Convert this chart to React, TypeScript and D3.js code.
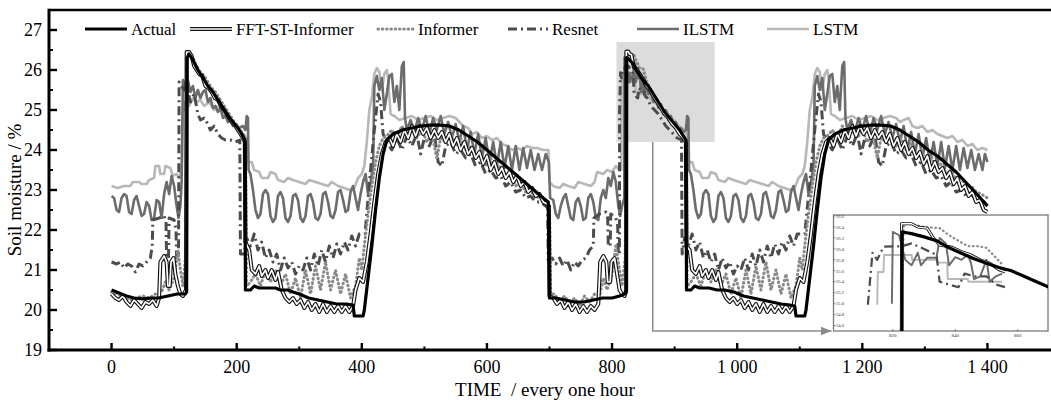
import React from "react";
import * as d3 from "d3";

type P = [number, number];

const xTicks = [0, 200, 400, 600, 800, 1000, 1200, 1400];
const xTickLabels = ["0", "200", "400", "600", "800", "1 000", "1 200", "1 400"];
const xMinorTicks = [100, 300, 500, 700, 900, 1100, 1300];
const yTicks = [19, 20, 21, 22, 23, 24, 25, 26, 27];
const yMinorTicks = [19.5, 20.5, 21.5, 22.5, 23.5, 24.5, 25.5, 26.5];
const insetXTicks = [820, 840, 860];
const insetYTicks = [24.6, 24.8, 25.0, 25.2, 25.4, 25.6, 25.8, 26.0, 26.2, 26.4, 26.6];
const highlightT = [807, 964];
const highlightV = [24.2, 26.7];
const connectorT = 865;
const insetT = [801, 869.7];
const insetV = [24.5, 26.62];

const actual: P[] = [
  [0,20.5],[8,20.45],[16,20.4],[24,20.35],[36,20.3],[50,20.28],[65,20.3],[75,20.3],[90,20.35],[105,20.4],[118,20.4],
  [120,20.45],[120.5,26.3],[124,26.4],[130,26.25],[138,26.0],[146,25.8],[154,25.6],[162,25.45],[170,25.25],[178,25.05],[186,24.85],[194,24.7],[202,24.55],[208,24.4],[213,24.25],
  [214,20.5],[222,20.5],[228,20.6],[236,20.55],[250,20.55],[262,20.55],[270,20.5],[282,20.5],[290,20.45],[300,20.4],[315,20.3],[330,20.25],[345,20.2],[360,20.15],[375,20.15],[386,20.12],[388,19.85],[402,19.85],[404,20.0],
  [410,20.8],[416,21.6],[422,22.5],[428,23.3],[434,23.9],[440,24.25],[450,24.4],[465,24.5],[480,24.55],[495,24.6],[510,24.62],[525,24.62],[540,24.6],[555,24.5],[570,24.35],[585,24.2],[600,24.0],[615,23.8],[630,23.6],[645,23.4],[660,23.2],[675,23.0],[690,22.8],[698,22.7],
  [700,20.3],[710,20.3],[725,20.25],[740,20.2],[755,20.2],[770,20.25],[785,20.3],[800,20.3],[812,20.35],[820,20.4],[822.8,20.45],
  [823,26.31],[826,26.28],[830,26.22],[834,26.15],[838,26.02],[842,25.92],[846,25.82],[850,25.74],[854,25.66],[858,25.6],[862,25.5],[866,25.4],[870,25.3],[876,25.15],[884,24.95],[892,24.8],[900,24.65],[908,24.5],[914,24.35],[918,24.25],
  [919,20.5],[926,20.5],[932,20.6],[940,20.55],[955,20.55],[968,20.5],[980,20.5],[995,20.45],[1010,20.35],[1025,20.3],[1040,20.25],[1055,20.2],[1070,20.15],[1085,20.12],[1092,20.1],[1094,19.85],[1108,19.85],[1110,20.0],
  [1116,20.8],[1122,21.6],[1128,22.5],[1134,23.3],[1140,23.9],[1146,24.25],[1156,24.4],[1170,24.5],[1185,24.55],[1200,24.6],[1215,24.62],[1230,24.62],[1245,24.6],[1260,24.5],[1275,24.35],[1290,24.2],[1305,24.0],[1320,23.85],[1335,23.65],[1350,23.45],[1365,23.2],[1380,22.95],[1400,22.6]
];

const fftInformer: P[] = [
  [0,20.4],[6,20.3],[12,20.25],[18,20.35],[24,20.2],[30,20.1],[36,20.25],[42,20.15],[48,20.05],[54,20.2],[60,20.15],[66,20.25],[72,20.1],[76,20.3],[78,21.2],[84,21.35],[88,21.2],[90,20.6],[93,20.6],[95,21.2],[99,21.3],[102,20.9],[106,20.6],[110,20.4],[114,20.35],[119,20.5],
  [120,26.45],[124,26.45],[128,26.35],[132,26.1],[136,26.0],[140,25.9],[145,25.85],[150,25.6],[155,25.55],[160,25.45],[165,25.3],[170,25.25],[175,25.1],[180,25.0],[186,24.85],[192,24.7],[198,24.6],[204,24.45],[210,24.3],[213,24.2],
  [214,21.7],[220,21.5],[224,21.0],[230,20.9],[236,21.1],[240,20.85],[246,21.0],[250,20.8],[256,21.0],[262,20.75],[266,20.95],[272,20.5],[278,20.3],[284,20.2],[290,20.3],[296,20.15],[302,20.25],[308,20.05],[314,20.2],[320,20.0],[326,20.15],[332,19.95],[338,20.15],[344,19.95],[350,20.1],[356,19.95],[362,20.1],[368,19.95],[374,20.1],[380,19.95],[386,20.1],[390,20.5],[396,20.8],[402,20.7],[408,21.2],[414,21.9],[420,22.7],[426,23.4],[432,23.9],[438,24.2],
  [444,24.3],[450,24.1],[456,24.4],[462,24.2],[468,24.5],[474,24.3],[480,24.6],[486,24.35],[492,24.6],[498,24.4],[504,24.55],[510,24.3],[516,24.5],[522,24.3],[528,24.45],[534,24.2],[540,24.4],[546,24.1],[552,24.3],[558,24.0],[564,24.2],[570,23.9],[576,24.05],[582,23.8],[588,23.95],[594,23.65],[600,23.85],[606,23.5],[612,23.7],[618,23.4],[624,23.55],[630,23.3],[636,23.45],[642,23.2],[648,23.35],[654,23.1],[660,23.2],[666,22.95],[672,23.05],[678,22.85],[684,22.9],[690,22.7],[696,22.65],[699,22.6],
  [700,20.35],[706,20.3],[712,20.15],[718,20.25],[724,20.05],[730,20.2],[736,20.0],[742,20.15],[748,19.95],[754,20.1],[760,19.95],[766,20.1],[772,20.0],[778,20.15],[781,21.2],[786,21.35],[791,21.2],[793,20.7],[797,20.7],[799,21.2],[804,21.3],[808,20.9],[812,20.5],[816,20.4],[820,20.35],[822.6,20.5],
  [822.8,26.46],[826,26.46],[828,26.4],[831,26.38],[833,26.2],[835,26.07],[839,26.03],[842,25.95],[845,25.89],[848,25.8],[851,25.74],[854,25.62],[856,25.58],[860,25.52],[864,25.4],[868,25.3],[872,25.2],[878,25.05],[884,24.9],[890,24.8],[896,24.65],[902,24.55],[908,24.4],[914,24.3],[918,24.2],
  [919,21.6],[924,21.5],[928,21.0],[934,20.9],[940,21.1],[944,20.85],[950,21.0],[954,20.8],[960,21.0],[966,20.75],[970,20.95],[976,20.5],[982,20.3],[988,20.2],[994,20.3],[1000,20.15],[1006,20.25],[1012,20.05],[1018,20.2],[1024,20.0],[1030,20.15],[1036,19.95],[1042,20.15],[1048,19.95],[1054,20.1],[1060,19.95],[1066,20.1],[1072,19.95],[1078,20.1],[1084,19.95],[1090,20.1],[1094,20.5],[1100,20.8],[1106,20.7],[1112,21.2],[1118,21.9],[1124,22.7],[1130,23.4],[1136,23.9],[1142,24.2],
  [1148,24.3],[1154,24.1],[1160,24.4],[1166,24.2],[1172,24.5],[1178,24.3],[1184,24.6],[1190,24.35],[1196,24.6],[1202,24.4],[1208,24.55],[1214,24.3],[1220,24.5],[1226,24.3],[1232,24.45],[1238,24.2],[1244,24.4],[1250,24.1],[1256,24.3],[1262,24.0],[1268,24.2],[1274,23.9],[1280,24.05],[1286,23.8],[1292,23.95],[1298,23.65],[1304,23.85],[1310,23.5],[1316,23.7],[1322,23.45],[1328,23.55],[1334,23.3],[1340,23.45],[1346,23.15],[1352,23.3],[1358,23.0],[1364,23.1],[1370,22.85],[1376,22.95],[1382,22.7],[1388,22.75],[1394,22.5],[1400,22.45]
];

const informer: P[] = [
  [0,20.45],[10,20.4],[20,20.3],[30,20.25],[40,20.3],[50,20.35],[60,20.3],[70,20.4],[80,20.45],[86,20.7],[92,20.5],[100,20.8],[106,21.5],[110,21.0],[114,20.6],[118,21.3],
  [121,26.45],[124,26.4],[130,26.3],[136,26.1],[142,25.95],[148,25.85],[154,25.7],[160,25.55],[166,25.45],[172,25.3],[178,25.15],[184,25.0],[190,24.85],[196,24.7],[202,24.6],[208,24.45],[214,24.3],
  [216,20.6],[222,20.7],[230,20.9],[238,20.6],[246,21.0],[254,20.7],[262,21.0],[270,20.6],[278,20.9],[286,20.4],[294,20.8],[302,20.3],[310,21.0],[318,20.4],[326,21.1],[334,20.5],[342,21.2],[350,20.5],[358,21.0],[366,20.4],[374,20.9],[382,20.3],[390,20.6],[396,21.3],[400,21.0],[404,21.6],[410,22.4],[416,23.1],[422,23.7],[428,24.1],[434,24.3],
  [440,24.35],[448,24.5],[456,24.3],[464,24.6],[472,24.4],[480,24.6],[488,24.3],[496,24.5],[504,24.2],[512,24.4],[520,23.8],[526,24.3],[534,24.2],[542,24.4],[550,24.1],[558,24.3],[566,24.0],[574,24.1],[582,23.8],[590,23.95],[598,23.6],[606,23.8],[614,23.5],[622,23.6],[630,23.3],[638,23.4],[646,23.1],[654,23.2],[662,22.95],[670,23.0],[678,22.8],[686,22.85],[694,22.7],[700,22.65],
  [702,20.4],[708,20.4],[716,20.2],[724,20.35],[732,20.15],[740,20.3],[748,20.1],[756,20.35],[764,20.2],[772,20.4],[780,20.35],[786,20.8],[792,20.5],[800,20.9],[806,21.6],[812,21.0],[816,20.6],[821,21.3],
  [823.5,26.45],[826,26.45],[830,26.4],[835,26.38],[838,26.25],[841,26.15],[844,26.05],[847,26.05],[850,26.02],[852,25.9],[855,25.72],[860,25.55],[866,25.4],[872,25.25],[878,25.1],[884,24.95],[890,24.8],[896,24.7],[902,24.55],[908,24.45],[914,24.3],[919,24.25],
  [920,20.6],[926,20.7],[934,20.9],[942,20.6],[950,21.0],[958,20.7],[966,21.0],[974,20.6],[982,20.9],[990,20.4],[998,20.8],[1006,20.3],[1014,21.0],[1022,20.4],[1030,21.1],[1038,20.5],[1046,21.2],[1054,20.5],[1062,21.0],[1070,20.4],[1078,20.9],[1086,20.3],[1094,20.6],[1100,21.3],[1104,21.0],[1108,21.6],[1114,22.4],[1120,23.1],[1126,23.7],[1132,24.1],[1138,24.3],
  [1144,24.35],[1152,24.5],[1160,24.3],[1168,24.6],[1176,24.4],[1184,24.6],[1192,24.3],[1200,24.5],[1208,24.2],[1216,24.4],[1224,23.8],[1230,24.3],[1238,24.2],[1246,24.4],[1254,24.1],[1262,24.3],[1270,24.0],[1278,24.15],[1286,23.85],[1294,24.0],[1302,23.7],[1310,23.85],[1318,23.55],[1326,23.65],[1334,23.4],[1342,23.5],[1350,23.25],[1358,23.3],[1366,23.1],[1374,23.1],[1382,22.95],[1390,22.9],[1400,22.8]
];

const resnet: P[] = [
  [0,21.2],[8,21.15],[14,21.2],[20,21.05],[26,21.15],[32,21.1],[38,20.95],[44,21.15],[50,21.1],[56,21.2],[62,21.3],[65,21.6],[66,22.25],[76,22.3],[84,22.35],[87,22.2],[88,21.3],[91,21.3],[92,22.3],[100,22.25],[103,22.0],[104,21.3],[107,21.3],
  [108,25.7],[112,25.6],[116,25.5],[120,25.6],[126,25.2],[132,25.4],[138,24.9],[142,24.75],[148,24.8],[152,24.7],[158,24.5],[164,24.6],[170,24.4],[176,24.3],[182,24.25],[190,24.25],[198,24.2],[205,24.25],
  [206,21.4],[212,21.4],[216,21.8],[222,21.6],[228,21.9],[234,21.5],[240,21.7],[246,21.3],[252,21.5],[258,21.2],[264,21.4],[270,21.0],[276,21.3],[282,21.05],[288,21.2],[294,20.9],[300,21.1],[306,21.0],[312,21.3],[318,21.0],[324,21.4],[330,21.1],[336,21.5],[342,21.2],[348,21.6],[354,21.3],[360,21.65],[366,21.4],[372,21.7],[378,21.5],[384,21.85],[390,21.6],[396,21.9],[405,21.9],
  [414,23.5],[420,24.5],[426,25.4],[430,25.2],[434,24.4],[440,24.2],[448,24.0],[456,24.3],[464,24.0],[472,24.35],[480,24.1],[488,24.4],[494,23.9],[500,24.3],[508,24.1],[516,24.4],[522,23.7],[528,23.6],[534,24.1],[542,24.2],[550,23.9],[558,24.0],[566,23.8],[574,23.9],[582,23.6],[590,23.7],[598,23.4],[606,23.5],[614,23.3],[622,23.35],[630,23.1],[638,23.2],[646,22.95],[654,23.0],[662,22.8],[670,22.85],[678,22.7],[686,22.7],[694,22.6],[697,22.55],
  [698,21.25],[704,21.3],[710,21.15],[716,21.3],[722,21.1],[728,21.25],[734,21.0],[740,21.2],[746,21.1],[752,21.25],[758,21.3],[764,21.5],[770,21.6],[771,22.3],[780,22.4],[790,22.45],[793,22.3],[794,21.6],[797,21.6],[798,22.4],[806,22.3],[809,22.1],[810,21.4],[811.8,21.4],
  [812,24.98],[813.5,25.93],[815,25.8],[817,26.04],[823,26.05],[826,26.1],[830,26.0],[834,25.89],[835,25.4],[838,25.35],[841,25.3],[843,25.55],[846,25.5],[850,25.5],[853,25.35],[856,25.3],[862,25.1],[868,25.0],[874,24.9],[880,24.75],[886,24.6],[892,24.5],[898,24.4],[904,24.3],[911,24.25],
  [912,21.4],[916,21.8],[922,21.6],[928,21.9],[934,21.5],[940,21.7],[946,21.3],[952,21.5],[958,21.2],[964,21.4],[970,21.0],[976,21.3],[982,21.05],[988,21.2],[994,20.9],[1000,21.1],[1006,21.0],[1012,21.3],[1018,21.0],[1024,21.4],[1030,21.1],[1036,21.5],[1042,21.2],[1048,21.6],[1054,21.3],[1060,21.65],[1066,21.4],[1072,21.7],[1078,21.5],[1084,21.85],[1090,21.6],[1096,21.9],[1108,21.9],
  [1118,23.5],[1124,24.5],[1130,25.4],[1134,25.2],[1138,24.4],[1144,24.2],[1152,24.0],[1160,24.3],[1168,24.0],[1176,24.35],[1184,24.1],[1192,24.4],[1198,23.9],[1204,24.3],[1212,24.1],[1220,24.4],[1226,23.7],[1232,23.6],[1238,24.1],[1246,24.2],[1254,23.9],[1262,24.0],[1270,23.8],[1278,23.9],[1286,23.6],[1294,23.7],[1302,23.4],[1310,23.5],[1318,23.3],[1326,23.35],[1334,23.1],[1342,23.2],[1350,22.95],[1358,23.0],[1366,22.85],[1374,22.9],[1382,22.75],[1390,22.8],[1400,22.6]
];

const ilstm: P[] = [
  [0,22.85],[4,22.8],[8,22.5],[12,22.45],[16,22.8],[20,22.9],[24,22.85],[28,22.45],[32,22.4],[36,22.75],[40,22.85],[44,22.6],[48,22.35],[52,22.4],[56,22.7],[60,22.6],[64,22.25],[68,22.3],[72,22.75],[76,22.7],[80,22.3],[84,22.9],[88,23.2],[92,22.9],[96,23.35],[100,23.1],[104,22.6],[107,22.3],[110,22.6],[112,23.2],
  [114,25.75],[118,25.6],[122,25.75],[126,25.45],[130,25.6],[134,25.3],[138,25.5],[142,25.3],[146,25.45],[150,25.5],[154,25.2],[158,25.3],[162,25.05],[166,25.1],[170,24.95],[174,25.05],[178,24.8],[182,24.85],[186,24.7],[190,24.75],[194,24.6],[198,24.65],[204,24.55],[210,24.6],[214,24.5],[216,24.85],[218,24.8],
  [219,23.5],[222,23.4],[226,23.0],[230,22.5],[234,22.3],[238,22.4],[242,22.9],[246,23.0],[250,22.9],[254,22.35],[258,22.2],[262,22.3],[266,22.85],[270,22.95],[274,22.8],[278,22.3],[282,22.2],[286,22.35],[290,22.85],[294,22.9],[298,22.75],[302,22.3],[306,22.2],[310,22.35],[314,22.85],[318,22.9],[322,22.7],[326,22.3],[330,22.25],[334,22.4],[338,22.9],[342,22.95],[346,22.7],[350,22.35],[354,22.3],[358,22.5],[362,22.95],[366,23.0],[370,22.75],[374,22.45],[378,22.5],[382,22.95],[386,23.1],[390,22.8],[394,22.5],[398,22.9],[402,23.2],[406,23.4],[410,22.9],[414,23.2],[418,23.6],
  [420,25.6],[424,25.85],[428,25.5],[432,25.8],[436,25.0],[440,25.4],[444,25.85],[448,25.9],[452,25.2],[456,25.6],[460,25.0],[464,26.1],[467,26.2],[469,24.8],
  [472,24.5],[478,24.75],[484,24.45],[490,24.8],[496,24.5],[502,24.85],[508,24.4],[514,24.8],[520,24.5],[526,24.85],[532,24.4],[538,24.7],[544,24.3],[550,24.65],[556,24.2],[562,24.6],[568,24.0],[574,24.45],[580,23.9],[586,24.4],[592,23.8],[598,24.3],[604,23.7],[610,24.2],[616,23.6],[622,24.2],[628,23.55],[634,24.1],[640,23.5],[646,24.1],[652,23.5],[658,24.05],[664,23.55],[670,24.0],[676,23.5],[682,23.9],[688,23.5],[694,23.9],[699,23.7],
  [701,22.8],[706,22.75],[710,22.4],[714,22.3],[718,22.6],[722,22.8],[726,22.9],[730,22.6],[734,22.3],[738,22.25],[742,22.7],[746,22.8],[750,22.6],[754,22.25],[758,22.3],[762,22.8],[766,22.9],[770,22.7],[774,22.3],[778,22.25],[782,22.8],[786,23.0],[790,22.8],[794,23.3],[798,23.1],[802,23.45],[806,23.2],[810,22.6],[813,22.35],[816,22.6],[819.5,22.8],
  [819.7,25.0],[820,26.31],[822,26.25],[824,25.8],[826,25.7],[828,25.93],[829,25.7],[831,25.84],[834,25.84],[835,26.2],[837,26.1],[838,25.7],[840,25.85],[842,25.8],[844,25.9],[845,25.75],[846,25.45],[848,25.5],[850,25.8],[851,25.4],[853,25.5],[855,25.55],
  [858,25.4],[862,25.45],[866,25.2],[870,25.3],[874,25.05],[878,25.15],[882,24.9],[886,25.0],[890,24.75],[894,24.85],[898,24.6],[902,24.7],[906,24.5],[910,24.55],[914,24.45],[918,24.5],[920,24.85],[922,24.8],
  [923,23.5],[926,23.4],[930,23.0],[934,22.5],[938,22.3],[942,22.4],[946,22.9],[950,23.0],[954,22.9],[958,22.35],[962,22.2],[966,22.3],[970,22.85],[974,22.95],[978,22.8],[982,22.3],[986,22.2],[990,22.35],[994,22.85],[998,22.9],[1002,22.75],[1006,22.3],[1010,22.2],[1014,22.35],[1018,22.85],[1022,22.9],[1026,22.7],[1030,22.3],[1034,22.25],[1038,22.4],[1042,22.9],[1046,22.95],[1050,22.7],[1054,22.35],[1058,22.3],[1062,22.5],[1066,22.95],[1070,23.0],[1074,22.75],[1078,22.45],[1082,22.5],[1086,22.95],[1090,23.1],[1094,22.8],[1098,22.5],[1102,22.9],[1106,23.2],[1110,23.4],[1114,22.9],[1118,23.2],[1122,23.6],
  [1124,25.6],[1128,25.85],[1132,25.5],[1136,25.8],[1140,25.0],[1144,25.4],[1148,25.85],[1152,25.9],[1156,25.2],[1160,25.6],[1164,25.0],[1168,26.1],[1171,26.2],[1173,24.8],
  [1176,24.5],[1182,24.75],[1188,24.45],[1194,24.8],[1200,24.5],[1206,24.85],[1212,24.4],[1218,24.8],[1224,24.5],[1230,24.85],[1236,24.4],[1242,24.7],[1248,24.3],[1254,24.65],[1260,24.2],[1266,24.6],[1272,24.0],[1278,24.45],[1284,23.9],[1290,24.4],[1296,23.8],[1302,24.3],[1308,23.7],[1314,24.2],[1320,23.6],[1326,24.2],[1332,23.55],[1338,24.1],[1344,23.5],[1350,24.1],[1356,23.5],[1362,24.05],[1368,23.55],[1374,24.0],[1380,23.5],[1386,23.9],[1392,23.5],[1396,23.9],[1400,23.7]
];

const lstm: P[] = [
  [0,23.1],[10,23.05],[20,23.1],[30,23.1],[34,23.2],[44,23.2],[48,23.15],[56,23.15],[60,23.25],[68,23.3],[70,23.6],[76,23.6],[78,23.4],[84,23.4],[86,23.6],[94,23.55],[98,23.35],[104,23.4],[108,23.3],[112,23.5],
  [114,24.9],[118,25.2],[124,25.1],[130,25.3],[136,25.2],[142,25.25],[148,25.1],[156,25.2],[164,25.0],[172,25.1],[180,24.9],[188,24.85],[196,24.6],[204,24.45],[210,24.4],[214,24.35],
  [217,23.7],[224,23.7],[228,23.5],[236,23.45],[240,23.3],[250,23.3],[254,23.45],[262,23.4],[266,23.25],[276,23.2],[282,23.3],[290,23.25],[300,23.2],[310,23.15],[316,23.25],[326,23.2],[336,23.15],[346,23.1],[352,23.2],[362,23.1],[372,23.05],[380,23.0],[388,23.05],[394,23.3],[400,23.4],[404,23.6],
  [408,24.2],[412,25.0],[416,25.3],[420,25.9],[424,26.05],[428,25.95],[432,25.5],[436,25.9],[440,26.0],[442,25.8],[446,24.9],
  [452,24.85],[460,24.75],[470,24.8],[480,24.85],[490,24.75],[500,24.8],[510,24.85],[520,24.75],[530,24.8],[540,24.85],[550,24.8],[556,24.7],[562,24.6],[570,24.55],[576,24.4],[584,24.45],[592,24.3],[600,24.35],[608,24.25],[616,24.3],[624,24.15],[632,24.1],[640,24.0],[648,24.05],[656,24.0],[664,24.1],[672,24.05],[680,24.05],[690,24.0],[698,24.0],
  [700,23.2],[706,23.1],[716,23.05],[722,23.15],[730,23.1],[740,23.05],[746,23.2],[756,23.15],[766,23.1],[772,23.2],[776,23.45],[786,23.4],[792,23.5],[800,23.45],[806,23.6],[812,23.5],[814.9,23.5],
  [815,24.98],[815.2,25.58],[817,25.58],[817.2,25.89],[826,25.89],[826.2,25.8],[834,25.8],[834.2,25.75],[837.4,25.75],[837.6,25.45],[844,25.45],[844.2,25.4],[855,25.4],
  [860,25.3],[866,25.2],[872,25.15],[880,25.0],[888,24.95],[896,24.8],[904,24.65],[910,24.55],[916,24.5],[919,24.4],
  [921,23.7],[928,23.7],[932,23.5],[940,23.45],[944,23.3],[954,23.3],[958,23.45],[966,23.4],[970,23.25],[980,23.2],[986,23.3],[994,23.25],[1004,23.2],[1014,23.15],[1020,23.25],[1030,23.2],[1040,23.15],[1050,23.1],[1056,23.2],[1066,23.1],[1076,23.05],[1084,23.0],[1092,23.05],[1098,23.3],[1104,23.4],[1108,23.6],
  [1112,24.2],[1116,25.0],[1120,25.3],[1124,25.9],[1128,26.05],[1132,25.95],[1136,25.5],[1140,25.9],[1144,26.0],[1146,25.8],[1150,24.9],
  [1156,24.85],[1164,24.75],[1174,24.8],[1184,24.85],[1194,24.75],[1204,24.8],[1214,24.85],[1224,24.75],[1234,24.8],[1244,24.85],[1254,24.8],[1260,24.7],[1266,24.75],[1274,24.8],[1280,24.6],[1288,24.55],[1296,24.6],[1304,24.45],[1312,24.5],[1320,24.4],[1328,24.35],[1336,24.3],[1344,24.35],[1352,24.2],[1360,24.25],[1368,24.1],[1376,24.15],[1384,24.0],[1392,24.05],[1400,24.0]
];

const seriesNames = ["Actual", "FFT-ST-Informer", "Informer", "Resnet", "ILSTM", "LSTM"];
const seriesData: P[][] = [actual, fftInformer, informer, resnet, ilstm, lstm];
// visible window of each series inside the zoomed inset
const insetFrom = [801, 801, 820, 812, 819.7, 815];
const insetTo = [870, 856, 856, 856, 855, 855];

type Style = { color: string; width: number; dash?: string; cap?: "round" | "butt"; double?: boolean };
const styles: Style[] = [
  { color: "#000", width: 3.2 },
  { color: "#111", width: 4.0, double: true },
  { color: "#8a8a8a", width: 3.1, dash: "0.5 3.8", cap: "round" },
  { color: "#4c4c4c", width: 3, dash: "9 4 2 4" },
  { color: "#6c6c6c", width: 2.6 },
  { color: "#b8b8b8", width: 2.6 },
];
const legendX = [85, 190, 378, 508, 637, 767];
const legendW = [42, 42, 36, 40, 42, 42];
const drawOrder = [5, 4, 3, 2, 1, 0];

const FONT = "'Liberation Serif', 'Times New Roman', Times, serif";

function SeriesPath({ d, s, thin }: { d: string; s: Style; thin?: number }) {
  const k = thin ?? 1;
  if (s.double) {
    return (
      <g>
        <path d={d} fill="none" stroke={s.color} strokeWidth={s.width * k} strokeLinejoin="round" />
        <path d={d} fill="none" stroke="#fff" strokeWidth={1.7 * k} strokeLinejoin="round" />
      </g>
    );
  }
  return (
    <path
      d={d}
      fill="none"
      stroke={s.color}
      strokeWidth={s.width * k}
      strokeDasharray={s.dash}
      strokeLinecap={s.cap ?? "butt"}
      strokeLinejoin="round"
    />
  );
}

export default function App() {
  const W = 1051, H = 400;
  const x = d3.scaleLinear().domain([-100, 1500]).range([49, 1050]);
  const y = d3.scaleLinear().domain([19, 27.5]).range([350, 10]);
  const ix = d3.scaleLinear().domain(insetT).range([833.5, 1048]);
  const iy = d3.scaleLinear().domain(insetV).range([331, 215]);
  const line = d3.line<P>().x((d) => x(d[0])).y((d) => y(d[1]));
  const iline = d3.line<P>().x((d) => ix(d[0])).y((d) => iy(d[1]));

  const plotL = x(-100), plotR = x(1500), plotT = y(27.5), plotB = y(19);
  const hx0 = x(highlightT[0]), hx1 = x(highlightT[1]);
  const hy0 = y(highlightV[1]), hy1 = y(highlightV[0]);
  const cx = x(connectorT);
  const inL = ix(insetT[0]), inR = ix(insetT[1]), inT = iy(insetV[1]), inB = iy(insetV[0]);

  return (
    <svg width={W} height={H} style={{ position: "absolute", left: 0, top: 0, background: "#fff" }} fontFamily={FONT}>
      <defs>
        <clipPath id="plotClip">
          <rect x={plotL} y={plotT} width={plotR - plotL} height={plotB - plotT} />
        </clipPath>
        <clipPath id="insetClip">
          <rect x={inL} y={inT} width={inR - inL} height={inB - inT} />
        </clipPath>
        <marker id="arrow" viewBox="0 0 10 10" refX="10" refY="5" markerWidth="7" markerHeight="7" orient="auto">
          <path d="M0,1 L10,5 L0,9 z" fill="#8a8a8a" />
        </marker>
      </defs>
      <rect width={W} height={H} fill="#fff" />

      {/* highlight box */}
      <rect x={hx0} y={hy0} width={hx1 - hx0} height={hy1 - hy0} fill="#dcdcdc" />

      {/* main series */}
      <g clipPath="url(#plotClip)">
        {drawOrder.map((i) => (
          <SeriesPath key={i} d={line(seriesData[i]) ?? ""} s={styles[i]} />
        ))}
      </g>

      {/* connector */}
      <path d={`M${cx},${hy1} L${cx},${inB} L${inL - 2},${inB}`} fill="none" stroke="#8a8a8a" strokeWidth={1.5} markerEnd="url(#arrow)" />

      {/* inset */}
      <rect x={inL} y={inT} width={inR - inL} height={inB - inT} fill="#fff" stroke="#7a7a7a" strokeWidth={1.3} />
      <g clipPath="url(#insetClip)">
        {drawOrder.map((i) => {
          const pts = seriesData[i].filter((p) => p[0] >= insetFrom[i] && p[0] <= insetTo[i]);
          return <SeriesPath key={i} d={iline(pts) ?? ""} s={styles[i]} thin={i === 0 ? 1 : 0.75} />;
        })}
      </g>
      {insetXTicks.map((t) => (
        <g key={t}>
          <line x1={ix(t)} x2={ix(t)} y1={inB} y2={inB - 2} stroke="#444" strokeWidth={0.6} />
          <text x={ix(t)} y={inB + 6} fontSize={5} textAnchor="middle" fill="#333">{t}</text>
        </g>
      ))}
      {insetYTicks.map((v) => (
        <g key={v}>
          <line x1={inL} x2={inL + 2} y1={iy(v)} y2={iy(v)} stroke="#444" strokeWidth={0.6} />
          <text x={inL + 2.5} y={iy(v) + 1.7} fontSize={4.6} fill="#333">{v.toFixed(1)}</text>
        </g>
      ))}

      {/* axes frame */}
      <line x1={plotL} x2={plotR + 5} y1={plotT} y2={plotT} stroke="#000" strokeWidth={2.6} />
      <line x1={plotL} x2={plotL} y1={plotT - 1.3} y2={plotB + 1.5} stroke="#000" strokeWidth={3} />
      <line x1={plotL - 1.5} x2={plotR + 5} y1={plotB} y2={plotB} stroke="#000" strokeWidth={3} />

      {/* y ticks */}
      {yTicks.map((v) => (
        <g key={v}>
          <line x1={plotL} x2={plotL + 8} y1={y(v)} y2={y(v)} stroke="#000" strokeWidth={2.4} />
          <text x={42} y={y(v) + 6} fontSize={18} textAnchor="end">{v}</text>
        </g>
      ))}
      {yMinorTicks.map((v) => (
        <line key={v} x1={plotL} x2={plotL + 4} y1={y(v)} y2={y(v)} stroke="#000" strokeWidth={2} />
      ))}

      {/* x ticks */}
      {xTicks.map((t, i) => (
        <g key={t}>
          <line x1={x(t)} x2={x(t)} y1={plotB} y2={plotB - 7} stroke="#000" strokeWidth={2.4} />
          <text x={x(t)} y={373} fontSize={18} textAnchor="middle">{xTickLabels[i]}</text>
        </g>
      ))}
      {xMinorTicks.map((t) => (
        <line key={t} x1={x(t)} x2={x(t)} y1={plotB} y2={plotB - 3.5} stroke="#000" strokeWidth={2} />
      ))}

      {/* axis titles */}
      <text x={545} y={396} fontSize={19} textAnchor="middle" xmlSpace="preserve">{"TIME  / every one hour"}</text>
      <text transform={`translate(21,190) rotate(-90)`} fontSize={19} textAnchor="middle">Soil moisture / %</text>

      {/* legend */}
      {seriesNames.map((name, i) => {
        const lx = legendX[i];
        const ly = 29;
        const d = `M${lx},${ly}L${lx + legendW[i]},${ly}`;
        return (
          <g key={name}>
            <SeriesPath d={d} s={styles[i]} />
            <text x={lx + legendW[i] + 4} y={ly + 6} fontSize={17}>{name}</text>
          </g>
        );
      })}
    </svg>
  );
}
